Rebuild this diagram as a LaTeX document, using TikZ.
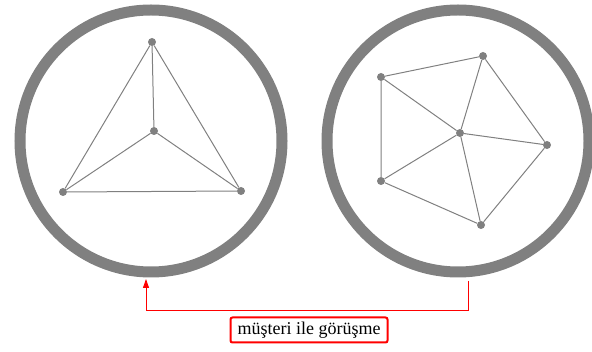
\documentclass[tikz,border=0pt]{standalone}
\usepackage{fontspec}
\setmainfont{Liberation Serif}
\usetikzlibrary{arrows.meta, positioning}

\begin{document}
\begin{tikzpicture}[x=1pt, y=-1pt,
    dot/.style={circle, fill=gray, inner sep=0pt, minimum size=8pt},
    link/.style={draw=gray, line width=1pt},
    ring/.style={draw=gray, line width=11pt}]
  \useasboundingbox (0,0) rectangle (592,352);
  % left circle: three around one
  \draw[ring] (151,141) circle (131);
  \node[dot] (t1) at (152,42) {};
  \node[dot] (t0) at (154,131) {};
  \node[dot] (t2) at (63,192) {};
  \node[dot] (t3) at (241,191) {};
  \draw[link] (t1) -- (t2) -- (t3) -- (t1);
  \foreach \n in {t1,t2,t3} \draw[link] (t0) -- (\n);
  % right circle: five around one
  \draw[ring] (458,141) circle (131);
  \node[dot] (p1) at (381,77) {};
  \node[dot] (p2) at (483,56) {};
  \node[dot] (p3) at (547,145) {};
  \node[dot] (p4) at (481,225) {};
  \node[dot] (p5) at (381,181) {};
  \node[dot] (p0) at (460,133) {};
  \draw[link] (p1) -- (p2) -- (p3) -- (p4) -- (p5) -- (p1);
  \foreach \n in {p1,p2,p3,p4,p5} \draw[link] (p0) -- (\n);
  % interview label and arrow
  \node[draw=red, line width=2pt, rounded corners=2pt, inner sep=2pt,
        minimum width=157pt, minimum height=25pt, font=\fontsize{18}{20}\selectfont]
        (talk) at (309,330) {müşteri ile görüşme};
  \coordinate (from) at (468,281);
  \coordinate (to) at (146,279);
  \draw[red, line width=0.9pt, -{Triangle[width=6pt, length=9pt]}]
        (from) -- (468,310) -| (to);
\end{tikzpicture}
\end{document}
